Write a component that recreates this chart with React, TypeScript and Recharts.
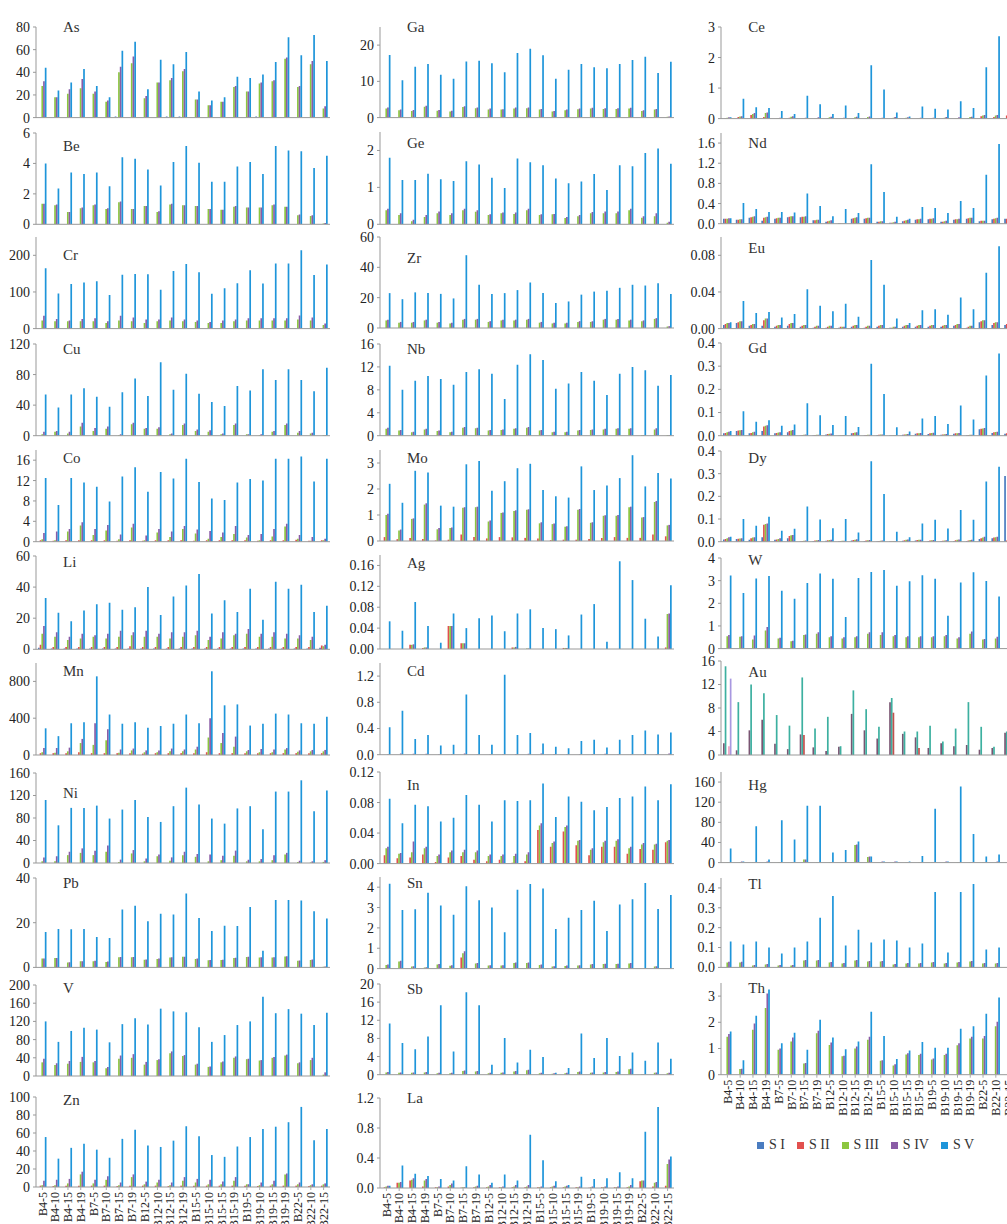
import React from 'react';
import { BarChart, Bar, XAxis, YAxis } from 'recharts';

const categories = ['B4-5','B4-10','B4-15','B4-19','B7-5','B7-10','B7-15','B7-19','B12-5','B12-10','B12-15','B12-19','B15-5','B15-10','B15-15','B15-19','B19-5','B19-10','B19-15','B19-19','B22-5','B22-10','B22-15'];
const seriesNames = ['S I', 'S II', 'S III', 'S IV', 'S V'];
const Z = [0,0,0,0,0,0,0,0,0,0,0,0,0,0,0,0,0,0,0,0,0,0,0];

// ---- column 1 ----
const As1 = [0,0,0,0,0,0,1,0,0,0,1,1,0,0,0,0,0,1,0,0,0,0,0];
const As3 = [28,18,21,26,21,14,40,48,17,31,33,41,16,11,14,27,23,30,32,52,27,47,8];
const As4 = [32,18,25,34,23,15,45,54,19,31,35,43,16,11,14,28,23,31,33,53,28,50,10];
const As5 = [44,24,31,43,28,18,59,67,25,51,47,58,23,15,18,36,35,38,49,71,55,73,50];

const Be3 = [1.35,1.25,0.8,1.05,1.25,1.0,1.45,1.0,1.2,0.8,1.3,1.25,1.2,1.0,0.95,1.15,1.1,1.1,1.25,1.15,0.6,0.55,0.05];
const Be4 = [1.35,1.3,0.8,1.1,1.3,1.05,1.5,1.0,1.2,0.85,1.35,1.25,1.2,1.0,0.95,1.2,1.1,1.1,1.3,1.15,0.65,0.6,0.08];
const Be5 = [4.0,2.35,3.4,3.3,3.4,2.5,4.4,4.3,3.6,2.55,4.1,5.15,4.05,2.8,2.8,3.8,4.1,3.3,5.15,4.85,4.8,3.7,4.5];

const Cr3 = [22,20,20,20,20,15,22,20,15,20,22,20,18,15,15,20,22,22,22,22,25,22,10];
const Cr4 = [35,26,22,26,28,20,35,30,25,25,30,25,22,18,22,25,28,28,28,28,36,30,14];
const Cr5 = [165,96,122,126,129,92,147,149,148,106,157,176,154,95,110,124,159,123,178,178,214,146,175];

const Cu3 = [2,5,3,12,6,9,1,15,9,9,2,14,6,5,2,14,2,1,5,14,4,3,1];
const Cu4 = [5,6,5,17,10,12,2,17,10,11,3,16,8,7,3,16,2,2,6,16,6,4,1];
const Cu5 = [54,37,54,62,51,38,57,75,52,96,60,81,55,44,39,65,59,87,73,87,73,58,89];

const Co2 = [0.3,0.2,0.3,0.3,0.3,0.3,0.2,0.3,0.2,0.3,0.3,0.3,0.2,0.3,0.3,0.3,0.3,0.2,0.3,0.3,0.4,0.2,0.3];
const Co3 = [0.5,0.3,2.0,3.2,1.3,2.2,0.5,2.8,0.3,1.8,0.9,2.5,1.6,0.6,0.9,1.5,0.8,0.3,1.0,3.0,0.6,0.2,0.3];
const Co4 = [1.7,2.0,2.5,3.8,2.5,3.3,1.4,3.5,1.2,2.5,2.0,3.1,2.4,2.1,1.8,3.1,1.3,1.5,2.5,3.5,1.3,0.9,0.6];
const Co5 = [12.5,7.2,12.5,11.6,10.8,7.9,12.8,14.6,9.8,13.7,12.4,16.3,11.7,8.5,8.2,11.6,12.3,12.0,16.3,16.3,16.7,11.8,16.3];

const Li1 = [1,0.5,0.5,0.5,0.5,0.5,0.5,0.5,0.5,0.5,0.5,0.5,0.5,0.5,0.5,0.5,0.5,0.5,0.5,0.5,0.5,0.5,1];
const Li2 = [3,1.5,1.5,1.5,1.5,1.5,1.5,2,1.5,1.5,1.5,1.5,1.5,1.5,1.5,1.5,1.5,1.5,1.5,1.5,1.5,1.5,2.5];
const Li3 = [10,8,6,7,8,7,8,9,8,8,7,8,9,6,7,9,10,8,8,7,7,6,2];
const Li4 = [15,11,8,10,9,10,12,11,12,10,11,11,12,8,11,10,13,10,11,10,9,8,3];
const Li5 = [33,23.5,18,25,29,30,25.5,27,40,22,34,41,48.5,23,31.5,24,39,19,43.5,39,41.5,24,28];

const Mn2 = [20,20,20,30,20,20,20,20,15,20,20,20,20,30,20,20,20,20,20,20,20,20,20];
const Mn3 = [30,25,40,130,110,160,25,50,30,30,40,40,60,190,130,90,40,30,30,60,35,40,40];
const Mn4 = [75,75,80,175,345,280,60,70,50,50,70,60,90,400,240,200,55,65,60,75,50,55,55];
const Mn5 = [290,205,345,355,855,440,340,355,295,315,340,440,345,910,540,550,320,340,450,440,345,340,415];

const Ni3 = [3,3,14,18,14,20,2,17,3,12,4,14,11,3,5,13,3,3,5,15,2,1,2];
const Ni4 = [10,12,20,26,22,31,6,23,8,15,10,20,16,15,13,22,6,7,14,18,4,3,5];
const Ni5 = [112,67,98,98,102,79,95,112,82,73,101,134,104,79,70,97,101,60,127,127,147,92,129];

const Pb3 = [4,4.2,2.2,2.7,2.8,2.4,4.5,4.5,3.4,3.8,4.4,4.8,3.8,3.2,3.3,4.2,4.7,4.4,4.4,4.9,3,3.3,0.3];
const Pb4 = [4,4.2,2.3,2.8,3,2.6,4.6,4.6,3.5,4,4.5,4.8,4,3.3,3.4,4.3,4.8,4.5,4.5,5,3.1,3.5,0.4];
const Pb5 = [15.8,17.2,17.1,17.2,13.6,13.1,25.9,27.6,20.6,24,23.7,33.1,22.1,16.3,18.6,18.5,27,7.5,30.2,30.2,29.9,25.1,21.9];

const V3 = [30,24,27,31,30,17,38,40,25,35,50,44,25,20,30,40,37,34,40,45,28,35,3];
const V4 = [38,28,33,42,33,20,45,48,31,37,54,46,27,21,32,43,38,35,42,47,30,40,8];
const V5 = [120,75,99,106,102,74,114,127,113,148,142,140,107,75,90,112,120,174,138,147,137,112,139];

const Zn2 = [1.5,1,1.5,1.5,1.5,1.5,1,1.5,1.5,1.5,1,1.5,1.5,1.5,1.5,1.5,1.5,1,1.5,1.5,1.5,1,1.5];
const Zn3 = [2,2,4,14,4,8,2,11,3,5,2,7,5,3,3,7,3,2,3,14,3,2,3];
const Zn4 = [7,8,9,17,8,12,5,14,6,8,5,11,9,8,6,11,3,5,7,15,5,3,4];
const Zn5 = [55.5,31.5,43.5,48,41.5,32.5,53.5,63.5,46,44.5,51.5,67.5,56.5,35.5,33.5,45,55.5,64.5,67,72,89,52,64.5];

// ---- column 2 ----
const Ga3 = [2.5,2.0,1.8,3.0,1.9,1.7,2.9,2.6,2.2,2.2,2.5,2.6,2.2,1.7,2.0,2.3,2.5,2.4,2.4,2.5,1.8,2.2,0.2];
const Ga4 = [2.8,2.2,2.1,3.3,2.1,1.9,3.1,2.8,2.5,2.3,2.8,2.8,2.4,1.8,2.2,2.5,2.7,2.6,2.6,2.7,2.0,2.4,0.3];
const Ga5 = [17.3,10.3,14,14.8,11.8,10.7,15.5,15.7,15,12.5,17.8,19,17.2,10.7,13.2,14.8,13.9,13.6,14.8,15.9,16.8,12.3,15.4];

const Ge3 = [0.38,0.25,0.08,0.2,0.3,0.25,0.38,0.34,0.25,0.3,0.28,0.38,0.25,0.27,0.17,0.22,0.3,0.3,0.3,0.38,0.18,0.22,0.04];
const Ge4 = [0.42,0.3,0.12,0.25,0.35,0.3,0.42,0.38,0.27,0.32,0.32,0.42,0.27,0.28,0.2,0.25,0.33,0.35,0.35,0.42,0.22,0.3,0.07];
const Ge5 = [1.8,1.2,1.2,1.37,1.22,1.17,1.71,1.62,1.26,0.98,1.78,1.68,1.6,1.24,1.11,1.16,1.36,0.93,1.6,1.57,1.93,2.05,1.64];

const Zr3 = [5,3.5,3.5,5,3.5,3,5.5,5.5,4,5,5,5.5,3.5,3,3,4,4,5.5,5.5,5,4.5,6,1];
const Zr4 = [5.5,4,4,5.5,4,3.5,6,6,4.5,5.5,5.5,6,4,3.5,3.5,4.5,4.5,6,6,5.5,5,6.5,1.2];
const Zr5 = [23,19,23.5,23,22.5,19.5,48,28.5,22.5,23,25,30,23,16.5,17.5,22,24,24.5,26.5,28.5,28,29.5,22.5];

const Nb3 = [1.2,0.9,0.6,1.1,0.8,0.6,1.4,1.3,0.9,1.0,1.2,1.4,0.9,0.6,0.6,0.9,1.0,1.1,1.2,1.2,0.1,1.1,0.1];
const Nb4 = [1.4,1.0,0.7,1.2,0.9,0.7,1.5,1.4,1.0,1.1,1.3,1.5,1.0,0.7,0.7,1.0,1.1,1.2,1.3,1.3,0.1,1.3,0.1];
const Nb5 = [12.2,8,9.6,10.4,9.9,8.9,11.1,11.6,10.8,6.4,12.4,14.2,13.2,8.2,9.1,11.1,9.6,7.1,10.8,12,11.4,8.7,10.6];

const Mo2 = [0.15,0.07,0.12,0.08,0.02,0.05,0.25,0.15,0.1,0.15,0.14,0.12,0.1,0.03,0.05,0.05,0.08,0.12,0.15,0.12,0.12,0.25,0.18];
const Mo3 = [1.0,0.4,0.85,1.4,0.45,0.5,1.28,1.3,0.75,1.08,1.15,1.2,0.68,0.65,0.55,1.2,0.7,0.97,0.97,1.3,0.9,1.5,0.6];
const Mo4 = [1.05,0.44,0.87,1.45,0.5,0.52,1.3,1.32,0.79,1.1,1.18,1.22,0.72,0.67,0.57,1.23,0.72,0.99,1.0,1.32,0.92,1.54,0.62];
const Mo5 = [2.2,1.47,2.7,2.63,1.36,1.32,2.95,3.08,1.93,2.3,2.8,2.97,1.96,1.72,1.67,2.87,1.96,2.13,2.42,3.3,2.1,2.62,2.4];

const Ag2 = [0,0,0.008,0.002,0,0.044,0.011,0,0,0,0.003,0,0,0,0.002,0,0,0,0,0,0,0,0.003];
const Ag3 = [0,0,0.008,0.003,0,0.044,0.011,0,0,0,0.003,0.001,0,0,0.002,0,0,0,0,0,0,0,0.067];
const Ag4 = [0,0,0.009,0.003,0,0.044,0.011,0,0,0,0.004,0.001,0,0,0.002,0,0,0,0,0,0,0,0.068];
const Ag5 = [0.053,0.035,0.09,0.044,0.012,0.068,0.04,0.059,0.064,0.034,0.068,0.076,0.04,0.038,0.026,0.066,0.086,0.014,0.168,0.132,0.058,0.024,0.122];

const Cd4 = [0.005,0.02,0.015,0.015,0.005,0.005,0.02,0.005,0.005,0.005,0.01,0.015,0.02,0.01,0.005,0.005,0.01,0.015,0.005,0.005,0.01,0.01,0.02];
const Cd5 = [0.42,0.67,0.24,0.3,0.14,0.15,0.92,0.3,0.15,1.22,0.3,0.33,0.17,0.12,0.1,0.21,0.23,0.11,0.23,0.3,0.37,0.31,0.34];

const In2 = [0.011,0.007,0.008,0.012,0.002,0.008,0.01,0.005,0.003,0.005,0.001,0.003,0.044,0.022,0.042,0.024,0.011,0.022,0.022,0.013,0.019,0.018,0.028];
const In3 = [0.02,0.013,0.015,0.02,0.01,0.015,0.015,0.015,0.01,0.01,0.01,0.012,0.05,0.027,0.048,0.03,0.018,0.028,0.03,0.02,0.025,0.025,0.03];
const In4 = [0.022,0.014,0.029,0.022,0.012,0.017,0.018,0.017,0.012,0.012,0.013,0.015,0.053,0.029,0.05,0.031,0.02,0.03,0.032,0.022,0.027,0.026,0.031];
const In5 = [0.085,0.053,0.077,0.075,0.055,0.06,0.09,0.077,0.055,0.083,0.082,0.083,0.105,0.061,0.088,0.081,0.07,0.074,0.086,0.088,0.101,0.083,0.104];

const Sn2 = [0,0,0,0,0,0,0.55,0,0,0,0,0,0,0,0,0,0,0,0,0,0,0,0];
const Sn3 = [0.18,0.35,0.1,0.05,0.2,0.14,0.75,0.25,0.15,0.15,0.27,0.28,0.18,0.1,0.13,0.15,0.2,0.22,0.22,0.25,0.01,0.1,0.01];
const Sn4 = [0.2,0.38,0.12,0.07,0.22,0.16,0.85,0.27,0.17,0.17,0.3,0.3,0.2,0.12,0.15,0.17,0.22,0.24,0.24,0.27,0.02,0.12,0.02];
const Sn5 = [4.17,2.88,2.91,3.73,3.1,2.65,4.05,3.36,3.0,1.78,3.87,4.15,3.93,1.95,2.5,2.88,3.33,1.85,3.15,3.41,4.2,2.93,3.62];

const Sb3 = [0.5,0.4,0.4,0.5,0.3,0.3,0.8,0.7,0.3,0.4,0.7,1.0,0.3,0.2,0.3,0.6,0.4,0.5,0.6,1.2,0.1,0.4,0.3];
const Sb4 = [0.6,0.5,0.5,0.6,0.4,0.4,0.9,0.8,0.4,0.5,0.8,1.1,0.4,0.3,0.4,0.7,0.5,0.6,0.7,1.3,0.1,0.5,0.4];
const Sb5 = [11.3,7,5.6,8.4,15.3,5.1,18.2,15.3,2.2,8.1,2.7,5.5,3.9,0.4,1.5,9.1,3.7,8.1,4.1,4.9,3.1,7.1,3.5];

const La2 = [0.01,0.07,0.1,0.02,0.01,0.02,0.005,0.01,0.01,0.01,0.01,0.01,0.01,0.01,0.01,0.01,0.005,0.01,0.01,0.01,0.09,0.02,0.03];
const La3 = [0.02,0.07,0.11,0.1,0.01,0.04,0.01,0.02,0.02,0.01,0.02,0.02,0.01,0.02,0.02,0.01,0.01,0.01,0.01,0.02,0.1,0.07,0.32];
const La4 = [0.03,0.08,0.13,0.12,0.02,0.06,0.01,0.03,0.04,0.02,0.04,0.04,0.02,0.03,0.03,0.02,0.02,0.02,0.02,0.04,0.1,0.08,0.38];
const La5 = [0.03,0.3,0.19,0.16,0.12,0.1,0.29,0.18,0.07,0.18,0.1,0.71,0.37,0.09,0.04,0.15,0.12,0.13,0.21,0.13,0.75,1.08,0.42];

// ---- column 3 ----
const Ce2 = [0.02,0.05,0.12,0.05,0.01,0.03,0.01,0.01,0.02,0.01,0.02,0.02,0.01,0.01,0.01,0.01,0.01,0.01,0.01,0.02,0.08,0.05,0.1];
const Ce3 = [0.03,0.07,0.15,0.18,0.02,0.06,0.02,0.02,0.04,0.02,0.04,0.05,0.02,0.03,0.03,0.02,0.02,0.03,0.02,0.05,0.1,0.1,0.3];
const Ce4 = [0.04,0.08,0.18,0.2,0.03,0.08,0.03,0.04,0.06,0.03,0.06,0.07,0.03,0.05,0.04,0.03,0.03,0.05,0.04,0.06,0.12,0.12,0.35];
const Ce5 = [0.04,0.65,0.37,0.35,0.25,0.15,0.75,0.47,0.15,0.43,0.18,1.75,0.95,0.2,0.07,0.4,0.32,0.3,0.57,0.35,1.68,2.7,0.9];

const Nd1 = [0.1,0.08,0.12,0.06,0.1,0.13,0.13,0.07,0.04,0.01,0.1,0.1,0.04,0.02,0.05,0.08,0.09,0.04,0.08,0.1,0.05,0.09,0.1];
const Nd2 = [0.1,0.08,0.13,0.12,0.11,0.14,0.14,0.07,0.05,0.01,0.11,0.11,0.04,0.02,0.06,0.09,0.1,0.04,0.09,0.11,0.06,0.1,0.1];
const Nd3 = [0.1,0.09,0.14,0.13,0.12,0.15,0.14,0.08,0.06,0.01,0.12,0.12,0.05,0.03,0.07,0.09,0.1,0.05,0.09,0.12,0.06,0.11,0.1];
const Nd4 = [0.11,0.09,0.15,0.14,0.12,0.15,0.15,0.08,0.07,0.01,0.13,0.12,0.05,0.04,0.08,0.1,0.11,0.06,0.1,0.12,0.06,0.12,0.1];
const Nd5 = [0.11,0.41,0.29,0.23,0.23,0.22,0.6,0.35,0.15,0.29,0.21,1.18,0.63,0.14,0.1,0.33,0.31,0.21,0.45,0.31,0.97,1.58,0.7];

const Eu1 = [0.004,0.006,0.003,0.003,0.002,0.003,0.002,0.001,0.001,0.001,0.002,0.001,0.002,0.001,0.002,0.002,0.002,0.002,0.003,0.001,0.007,0.004,0.004];
const Eu2 = [0.005,0.007,0.004,0.009,0.003,0.005,0.003,0.002,0.002,0.002,0.003,0.002,0.003,0.001,0.003,0.003,0.003,0.003,0.004,0.002,0.008,0.006,0.005];
const Eu3 = [0.006,0.008,0.005,0.011,0.004,0.006,0.004,0.003,0.003,0.002,0.004,0.003,0.004,0.002,0.004,0.004,0.004,0.004,0.005,0.003,0.009,0.007,0.005];
const Eu4 = [0.006,0.008,0.005,0.011,0.004,0.006,0.004,0.003,0.003,0.002,0.004,0.003,0.004,0.002,0.004,0.004,0.004,0.004,0.005,0.003,0.009,0.007,0.006];
const Eu5 = [0.007,0.03,0.017,0.018,0.012,0.016,0.043,0.025,0.019,0.027,0.013,0.075,0.048,0.011,0.006,0.02,0.021,0.015,0.034,0.021,0.061,0.09,0.04];

const Gd1 = [0.01,0.02,0.01,0.02,0.01,0.015,0.002,0.002,0.005,0.001,0.01,0.002,0.003,0.002,0.004,0.008,0.007,0.004,0.008,0.002,0.028,0.012,0.008];
const Gd2 = [0.012,0.022,0.012,0.04,0.012,0.02,0.003,0.003,0.007,0.002,0.012,0.003,0.004,0.002,0.005,0.01,0.01,0.005,0.01,0.003,0.03,0.015,0.01];
const Gd3 = [0.015,0.024,0.015,0.043,0.014,0.022,0.004,0.004,0.008,0.003,0.014,0.004,0.005,0.003,0.006,0.011,0.012,0.006,0.011,0.004,0.031,0.016,0.012];
const Gd4 = [0.017,0.025,0.017,0.045,0.015,0.025,0.005,0.004,0.009,0.003,0.015,0.004,0.005,0.003,0.007,0.012,0.013,0.007,0.012,0.004,0.033,0.017,0.013];
const Gd5 = [0.02,0.105,0.06,0.067,0.043,0.048,0.14,0.088,0.046,0.085,0.038,0.31,0.18,0.036,0.018,0.074,0.085,0.05,0.13,0.07,0.26,0.355,0.15];

const Dy1 = [0.01,0.012,0.008,0.02,0.008,0.015,0.002,0.003,0.004,0.002,0.005,0.003,0.002,0.002,0.004,0.005,0.003,0.003,0.003,0.003,0.012,0.015,0.29];
const Dy2 = [0.012,0.013,0.015,0.075,0.01,0.025,0.003,0.005,0.006,0.003,0.007,0.005,0.003,0.002,0.006,0.007,0.005,0.004,0.006,0.005,0.015,0.018,0.005];
const Dy3 = [0.015,0.014,0.018,0.078,0.012,0.028,0.004,0.006,0.007,0.004,0.009,0.006,0.004,0.003,0.008,0.008,0.006,0.005,0.008,0.007,0.018,0.02,0.3];
const Dy4 = [0.02,0.015,0.02,0.08,0.015,0.03,0.005,0.007,0.008,0.004,0.011,0.007,0.005,0.003,0.01,0.009,0.007,0.006,0.01,0.009,0.022,0.022,0.31];
const Dy5 = [0.022,0.1,0.07,0.11,0.048,0.057,0.155,0.098,0.059,0.1,0.04,0.355,0.21,0.044,0.02,0.08,0.097,0.058,0.14,0.097,0.265,0.33,0.32];

const W3 = [0.55,0.52,0.4,0.8,0.45,0.32,0.6,0.65,0.5,0.45,0.5,0.65,0.6,0.55,0.5,0.5,0.5,0.55,0.45,0.65,0.4,0.45,0.45];
const W4 = [0.6,0.55,0.58,0.95,0.48,0.35,0.62,0.72,0.55,0.5,0.55,0.72,0.72,0.6,0.55,0.55,0.55,0.6,0.5,0.75,0.42,0.52,0.5];
const W5 = [3.23,2.45,3.1,3.2,2.55,2.2,2.9,3.32,3.08,1.4,3.12,3.38,3.47,2.77,2.97,3.24,3.08,1.45,2.92,3.37,2.98,2.3,2.8];

const Au1 = [2.0,0.8,4.2,6.0,1.9,1.0,3.5,1.3,0.7,1.4,7.0,4.2,2.8,9.0,3.6,3.0,1.2,2.0,1.5,1.7,0.9,1.2,3.8];
const Au2 = [15.1,9.0,12.0,10.5,6.8,5.0,13.2,4.5,6.5,1.5,11.0,7.8,4.8,9.7,4.0,4.0,5.0,2.3,4.5,9.0,4.8,1.4,4.0];
const Au3 = [0,0,0,0,0,0,3.4,0,0,0,0,0,0,7.2,0,1.2,0,0,0,0,0,0,0];
const Au4 = [1.5,0,0,0,0,0,0,0,0,0,0,0,0,0,0,0,0,0,0,0,0,0,0];
const Au5 = [13,0,0,0,0,0,0,0,0,0,0,0,0,0,0,0,0,0,0,0,0,0,0];

const Hg3 = [1,1,1,1,1,1,6,1,1,1,35,11,1,1,1,1,1,1,1,1,1,1,1];
const Hg4 = [1,2,1,2,1,1,6,1,1,1,36,12,2,2,1,1,1,2,1,1,1,2,1];
const Hg5 = [28,2,72,6,84,46,113,113,20,25,42,12,2,2,2,13,107,2,151,57,12,16,10];

const Tl3 = [0.025,0.025,0.01,0.015,0.01,0.01,0.035,0.035,0.025,0.02,0.035,0.03,0.03,0.015,0.02,0.02,0.025,0.02,0.025,0.03,0.02,0.02,0.02];
const Tl4 = [0.028,0.028,0.012,0.017,0.012,0.012,0.037,0.037,0.027,0.022,0.037,0.032,0.032,0.017,0.022,0.022,0.027,0.022,0.027,0.032,0.022,0.022,0.022];
const Tl5 = [0.13,0.115,0.13,0.1,0.07,0.1,0.13,0.25,0.36,0.11,0.19,0.125,0.14,0.135,0.1,0.12,0.38,0.075,0.38,0.42,0.09,0.1,0.1];

const Th3 = [1.45,0.22,1.72,2.55,0.95,1.27,0.43,1.58,1.13,0.7,1.0,1.33,0.53,0.35,0.77,0.75,0.58,0.75,1.12,1.38,1.38,1.85,1.5];
const Th4 = [1.55,0.23,1.95,3.1,1.0,1.42,0.45,1.68,1.23,0.72,1.08,1.45,0.55,0.4,0.82,0.8,0.62,0.8,1.2,1.45,1.48,2.02,1.6];
const Th5 = [1.65,0.55,2.25,3.25,1.2,1.6,0.95,2.1,1.42,0.97,1.27,2.4,1.48,0.6,0.92,1.25,1.03,1.03,1.75,1.85,2.33,2.95,2.0];

const COLORS = ['#4A7CC0', '#E2504E', '#8CC63F', '#8A5CA6', '#1E95DA'];
const AU_COLORS = ['#7A5572', '#3DB0A0', '#C0504D', '#F0A0C0', '#A898E0'];

type PanelDef = {
  name: string; col: number; top: number; bottom: number; max: number;
  ticks: number[]; dec: number; titleY: number; s: number[][]; labels?: boolean; colors?: string[];
};

const panels: PanelDef[] = [
  { name: 'As', col: 0, top: 26.7, bottom: 117.3, max: 80, ticks: [0,20,40,60,80], dec: 0, titleY: 27, s: [As1, Z, As3, As4, As5] },
  { name: 'Be', col: 0, top: 132.7, bottom: 224, max: 6, ticks: [0,2,4,6], dec: 0, titleY: 145.7, s: [Z, Z, Be3, Be4, Be5] },
  { name: 'Cr', col: 0, top: 236.7, bottom: 328.3, max: 250, ticks: [0,100,200], dec: 0, titleY: 255, s: [Z, Z, Cr3, Cr4, Cr5] },
  { name: 'Cu', col: 0, top: 344.3, bottom: 436, max: 120, ticks: [0,40,80,120], dec: 0, titleY: 349.3, s: [Z, Z, Cu3, Cu4, Cu5] },
  { name: 'Co', col: 0, top: 450, bottom: 541.7, max: 18, ticks: [0,4,8,12,16], dec: 0, titleY: 458.3, s: [Z, Co2, Co3, Co4, Co5] },
  { name: 'Li', col: 0, top: 555.7, bottom: 649, max: 60, ticks: [0,20,40,60], dec: 0, titleY: 561.7, s: [Li1, Li2, Li3, Li4, Li5] },
  { name: 'Mn', col: 0, top: 663, bottom: 755, max: 1000, ticks: [0,400,800], dec: 0, titleY: 671, s: [Z, Mn2, Mn3, Mn4, Mn5] },
  { name: 'Ni', col: 0, top: 773.3, bottom: 863.3, max: 160, ticks: [0,40,80,120,160], dec: 0, titleY: 793, s: [Z, Z, Ni3, Ni4, Ni5] },
  { name: 'Pb', col: 0, top: 878.3, bottom: 967.7, max: 40, ticks: [0,20,40], dec: 0, titleY: 883.3, s: [Z, Z, Pb3, Pb4, Pb5] },
  { name: 'V', col: 0, top: 985, bottom: 1076, max: 200, ticks: [0,40,80,120,160,200], dec: 0, titleY: 988.3, s: [Z, Z, V3, V4, V5] },
  { name: 'Zn', col: 0, top: 1096.7, bottom: 1186.7, max: 100, ticks: [0,20,40,60,80,100], dec: 0, titleY: 1100, s: [Z, Zn2, Zn3, Zn4, Zn5], labels: true },

  { name: 'Ga', col: 1, top: 26.7, bottom: 117.3, max: 25, ticks: [0,10,20], dec: 0, titleY: 26.7, s: [Z, Z, Ga3, Ga4, Ga5] },
  { name: 'Ge', col: 1, top: 131.7, bottom: 224, max: 2.5, ticks: [0,1,2], dec: 0, titleY: 143.3, s: [Z, Z, Ge3, Ge4, Ge5] },
  { name: 'Zr', col: 1, top: 237.3, bottom: 328.3, max: 60, ticks: [0,20,40,60], dec: 0, titleY: 258.3, s: [Z, Z, Zr3, Zr4, Zr5] },
  { name: 'Nb', col: 1, top: 344.3, bottom: 436, max: 16, ticks: [0,4,8,12,16], dec: 0, titleY: 349.3, s: [Z, Z, Nb3, Nb4, Nb5] },
  { name: 'Mo', col: 1, top: 450, bottom: 541, max: 3.5, ticks: [0,1,2,3], dec: 0, titleY: 458.3, s: [Z, Mo2, Mo3, Mo4, Mo5] },
  { name: 'Ag', col: 1, top: 555, bottom: 649, max: 0.18, ticks: [0,0.04,0.08,0.12,0.16], dec: 2, titleY: 563.3, s: [Z, Ag2, Ag3, Ag4, Ag5] },
  { name: 'Cd', col: 1, top: 663.3, bottom: 755, max: 1.4, ticks: [0,0.4,0.8,1.2], dec: 1, titleY: 671, s: [Z, Z, Z, Cd4, Cd5] },
  { name: 'In', col: 1, top: 771.7, bottom: 863.3, max: 0.12, ticks: [0,0.04,0.08,0.12], dec: 2, titleY: 785, s: [Z, In2, In3, In4, In5] },
  { name: 'Sn', col: 1, top: 876.7, bottom: 968.3, max: 4.5, ticks: [0,1,2,3,4], dec: 0, titleY: 883.3, s: [Z, Sn2, Sn3, Sn4, Sn5] },
  { name: 'Sb', col: 1, top: 984.3, bottom: 1075, max: 20, ticks: [0,4,8,12,16,20], dec: 0, titleY: 989.3, s: [Z, Z, Sb3, Sb4, Sb5] },
  { name: 'La', col: 1, top: 1097.7, bottom: 1187.7, max: 1.2, ticks: [0,0.4,0.8,1.2], dec: 1, titleY: 1098.3, s: [Z, La2, La3, La4, La5], labels: true },

  { name: 'Ce', col: 2, top: 26.7, bottom: 118.3, max: 3, ticks: [0,1,2,3], dec: 0, titleY: 26.7, s: [Z, Ce2, Ce3, Ce4, Ce5] },
  { name: 'Nd', col: 2, top: 133.3, bottom: 224, max: 1.8, ticks: [0,0.4,0.8,1.2,1.6], dec: 1, titleY: 143.3, s: [Nd1, Nd2, Nd3, Nd4, Nd5] },
  { name: 'Eu', col: 2, top: 236.7, bottom: 328.3, max: 0.1, ticks: [0,0.04,0.08], dec: 2, titleY: 248.3, s: [Eu1, Eu2, Eu3, Eu4, Eu5] },
  { name: 'Gd', col: 2, top: 343.3, bottom: 436, max: 0.4, ticks: [0,0.1,0.2,0.3,0.4], dec: 1, titleY: 348.3, s: [Gd1, Gd2, Gd3, Gd4, Gd5] },
  { name: 'Dy', col: 2, top: 451, bottom: 541.7, max: 0.4, ticks: [0,0.1,0.2,0.3,0.4], dec: 1, titleY: 458.3, s: [Dy1, Dy2, Dy3, Dy4, Dy5] },
  { name: 'W', col: 2, top: 557.7, bottom: 648.3, max: 4, ticks: [0,1,2,3,4], dec: 0, titleY: 560, s: [Z, Z, W3, W4, W5] },
  { name: 'Au', col: 2, top: 661, bottom: 755, max: 16, ticks: [0,4,8,12,16], dec: 0, titleY: 671.7, s: [Au1, Au2, Au3, Au4, Au5], colors: AU_COLORS },
  { name: 'Hg', col: 2, top: 771.7, bottom: 862.3, max: 180, ticks: [0,40,80,120,160], dec: 0, titleY: 785, s: [Z, Z, Hg3, Hg4, Hg5] },
  { name: 'Tl', col: 2, top: 878.3, bottom: 967.7, max: 0.45, ticks: [0,0.1,0.2,0.3,0.4], dec: 1, titleY: 884.3, s: [Z, Z, Tl3, Tl4, Tl5] },
  { name: 'Th', col: 2, top: 983.3, bottom: 1075, max: 3.5, ticks: [0,1,2,3], dec: 0, titleY: 988.3, s: [Z, Z, Th3, Th4, Th5], labels: true },
];

const COLX = [36, 380, 721.3];
const PLOT_W = 294;
const YW = 44;
const FONT = '"Liberation Serif", "Times New Roman", serif';
const KEYS = ['s1', 's2', 's3', 's4', 's5'];

const RotTick = (props: any) => {
  const { x, y, payload } = props;
  return (
    <text x={x} y={y} transform={`rotate(-90 ${x} ${y})`} textAnchor="end" dy="0.35em"
      fontSize={12} fill="#222" fontFamily={FONT}>{payload.value}</text>
  );
};

function Panel({ p }: { p: PanelDef }) {
  const data = categories.map((c, i) => ({
    c, s1: p.s[0][i], s2: p.s[1][i], s3: p.s[2][i], s4: p.s[3][i], s5: p.s[4][i],
  }));
  const colors = p.colors || COLORS;
  const mt = 9;
  const xh = p.labels ? 50 : 10;
  const h = mt + (p.bottom - p.top) + xh;
  const axisX = COLX[p.col];
  return (
    <div style={{ position: 'absolute', left: axisX - YW, top: p.top - mt }}>
      <BarChart width={YW + PLOT_W + 2} height={h} data={data}
        margin={{ top: mt, right: 2, bottom: 0, left: 0 }} barSize={1.7} barGap={0}>
        <XAxis dataKey="c" interval={0} height={xh} tick={p.labels ? RotTick : false}
          tickSize={3} tickLine={{ stroke: '#aaa' }} axisLine={{ stroke: '#999' }} />
        <YAxis width={YW} domain={[0, p.max]} ticks={p.ticks} interval={0} allowDataOverflow
          tickFormatter={(v: number) => v.toFixed(p.dec)}
          tick={{ fontSize: 14, fill: '#222', fontFamily: FONT }} tickSize={3} tickMargin={3}
          axisLine={{ stroke: '#999' }} tickLine={{ stroke: '#999' }} />
        {KEYS.map((k, i) => (
          <Bar key={k} dataKey={k} name={seriesNames[i]} fill={colors[i]} isAnimationActive={false} />
        ))}
      </BarChart>
    </div>
  );
}

export default function App() {
  return (
    <div style={{ position: 'fixed', left: 0, top: 0, width: 1007, height: 1224, overflow: 'hidden', background: '#fff', fontFamily: FONT }}>
      {panels.map((p) => <Panel key={p.name} p={p} />)}
      {panels.map((p) => (
        <div key={'t' + p.name} style={{ position: 'absolute', left: COLX[p.col] + 27, top: p.titleY - 9, fontSize: 15, lineHeight: '18px', color: '#333' }}>
          {p.name}
        </div>
      ))}
      <div style={{ position: 'absolute', left: 757, top: 1137, display: 'flex', alignItems: 'center', gap: 12, fontSize: 14, lineHeight: '16px', color: '#333' }}>
        {seriesNames.map((n, i) => (
          <div key={n} style={{ display: 'flex', alignItems: 'center' }}>
            <span style={{ display: 'inline-block', width: 7, height: 7, background: COLORS[i], marginRight: 5 }} />
            <span>{n}</span>
          </div>
        ))}
      </div>
    </div>
  );
}
